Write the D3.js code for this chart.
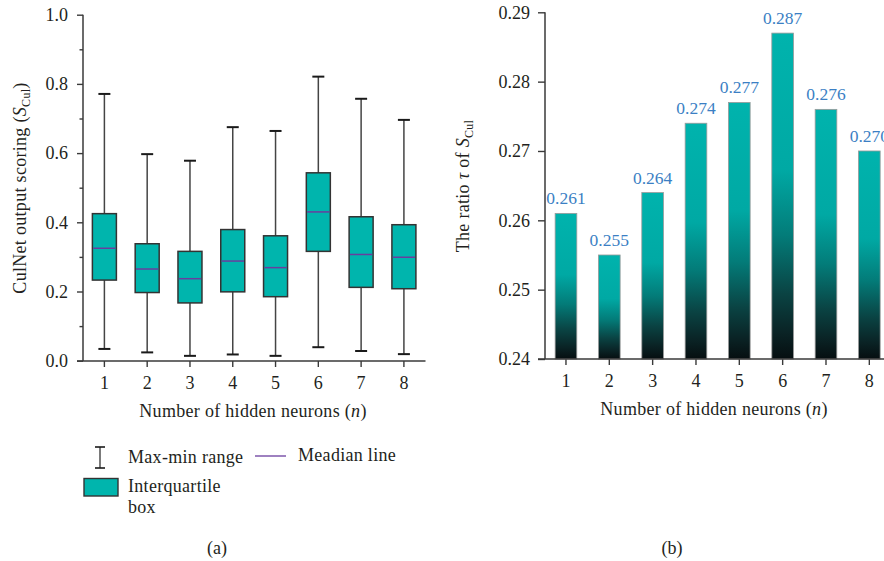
<!DOCTYPE html>
<html>
<head>
<meta charset="utf-8">
<script src="https://cdn.jsdelivr.net/npm/d3@7"></script>
<style>
  html, body { margin: 0; padding: 0; background: #fff; }
  svg { display: block; }
  svg text { font-family: "Liberation Serif", "Times New Roman", serif !important; fill: #231f20; }
  svg text.wide { letter-spacing: 0.3px; }
</style>
</head>
<body>
<svg id="chart" width="884" height="561"></svg>
<script>
// Hidden-neuron counts shared by both panels
const neurons = ["1", "2", "3", "4", "5", "6", "7", "8"];

// Panel (a): CulNet output score distribution per network size
const scoreMin    = [0.034, 0.024, 0.014, 0.018, 0.014, 0.039, 0.028, 0.019];
const scoreQ1     = [0.233, 0.197, 0.167, 0.199, 0.185, 0.316, 0.212, 0.208];
const scoreMedian = [0.325, 0.265, 0.237, 0.288, 0.269, 0.430, 0.307, 0.299];
const scoreQ3     = [0.425, 0.338, 0.316, 0.379, 0.361, 0.543, 0.416, 0.393];
const scoreMax    = [0.771, 0.597, 0.578, 0.675, 0.664, 0.821, 0.757, 0.696];
const scoreTicks  = [0, 0.2, 0.4, 0.6, 0.8, 1.0];
const scoreMinorTicks = [0.1, 0.3, 0.5, 0.7, 0.9];

// Panel (b): ratio tau of S_Cul per network size
const ratioValues = [0.261, 0.255, 0.264, 0.274, 0.277, 0.287, 0.276, 0.270];
const ratioTicks  = [0.24, 0.25, 0.26, 0.27, 0.28, 0.29];

const serif = '"Liberation Serif", "Times New Roman", serif';
const svg = d3.select("#chart");
const axisColor = "#3a3a3a";
const boxFill = "#00b5ad";
const medianColor = "#6a3d9e";
const labelBlue = "#3b7fc4";

const defs = svg.append("defs");
const grad = defs.append("linearGradient")
  .attr("id", "barFade")
  .attr("x1", 0).attr("y1", 0).attr("x2", 0).attr("y2", 1);
[[0, "#00b3ad"], [0.42, "#00a9a4"], [0.62, "#037c79"], [0.8, "#0a4343"], [0.92, "#0a2325"], [1, "#060e10"]]
  .forEach(([o, c]) => grad.append("stop").attr("offset", o).attr("stop-color", c));

function styleAxis(g) {
  g.attr("font-family", serif);
  g.selectAll("line").attr("stroke", axisColor).attr("stroke-width", 1.4);
  g.selectAll("text").style("font-family", serif).style("font-size", "18px").attr("fill", "#231f20");
}

// ---------- Panel (a): box plot ----------
const gA = svg.append("g");
const xA = d3.scaleBand().domain(neurons).range([83, 425.3]);
const yA = d3.scaleLinear().domain([0, 1]).range([360.7, 14.7]);
const boxW = 24, capW = 12;

// minor ticks
gA.append("g")
  .attr("transform", "translate(83,0)")
  .call(d3.axisLeft(yA).tickValues(scoreMinorTicks).tickSize(3.5).tickFormat(""))
  .call(g => g.select(".domain").remove())
  .call(styleAxis);

gA.append("g")
  .attr("transform", "translate(83,0)")
  .call(d3.axisLeft(yA).tickValues(scoreTicks).tickSize(6).tickPadding(9).tickFormat(d3.format(".1f")))
  .call(g => g.select(".domain").remove())
  .call(styleAxis);

gA.append("g")
  .attr("transform", "translate(0,361)")
  .call(d3.axisBottom(xA).tickSize(6).tickPadding(9))
  .call(g => g.select(".domain").remove())
  .call(styleAxis);

gA.append("line").attr("x1", 83).attr("x2", 83).attr("y1", yA(1)).attr("y2", 361)
  .attr("stroke", axisColor).attr("stroke-width", 1.5);
gA.append("line").attr("x1", 77).attr("x2", 425.5).attr("y1", 361).attr("y2", 361)
  .attr("stroke", axisColor).attr("stroke-width", 1.5);

const boxes = gA.append("g").selectAll("g").data(neurons).join("g")
  .attr("transform", d => `translate(${xA(d) + xA.bandwidth() / 2},0)`);

boxes.append("line")
  .attr("x1", 0).attr("x2", 0)
  .attr("y1", (d, i) => yA(scoreMax[i])).attr("y2", (d, i) => yA(scoreMin[i]))
  .attr("stroke", "#444").attr("stroke-width", 1.5);
boxes.append("line")
  .attr("x1", -capW / 2).attr("x2", capW / 2)
  .attr("y1", (d, i) => yA(scoreMax[i])).attr("y2", (d, i) => yA(scoreMax[i]))
  .attr("stroke", "#1a1a1a").attr("stroke-width", 2);
boxes.append("line")
  .attr("x1", -capW / 2).attr("x2", capW / 2)
  .attr("y1", (d, i) => yA(scoreMin[i])).attr("y2", (d, i) => yA(scoreMin[i]))
  .attr("stroke", "#1a1a1a").attr("stroke-width", 2);
boxes.append("rect")
  .attr("x", -boxW / 2).attr("width", boxW)
  .attr("y", (d, i) => yA(scoreQ3[i]))
  .attr("height", (d, i) => yA(scoreQ1[i]) - yA(scoreQ3[i]))
  .attr("fill", boxFill).attr("stroke", "#333").attr("stroke-width", 1.5);
boxes.append("line")
  .attr("x1", -boxW / 2 + 0.8).attr("x2", boxW / 2 - 0.8)
  .attr("y1", (d, i) => yA(scoreMedian[i])).attr("y2", (d, i) => yA(scoreMedian[i]))
  .attr("stroke", medianColor).attr("stroke-width", 1.5);

// axis titles
gA.append("text").attr("class", "wide")
  .attr("x", 253).attr("y", 417).attr("text-anchor", "middle")
  .style("font-size", "18px")
  .html('Number of hidden neurons (<tspan font-style="italic">n</tspan>)');

gA.append("text").attr("class", "wide")
  .attr("transform", "translate(26,188) rotate(-90)")
  .attr("text-anchor", "middle")
  .style("font-size", "18px")
  .html('CulNet output scoring (<tspan font-style="italic">S</tspan><tspan dy="4" style="font-size:12px">Cul</tspan><tspan dy="-4">)</tspan>');

// legend
const lg = gA.append("g");
lg.append("line").attr("x1", 100).attr("x2", 100).attr("y1", 447).attr("y2", 468)
  .attr("stroke", "#333").attr("stroke-width", 1.3);
lg.append("line").attr("x1", 95).attr("x2", 105).attr("y1", 447).attr("y2", 447)
  .attr("stroke", "#1a1a1a").attr("stroke-width", 1.6);
lg.append("line").attr("x1", 95).attr("x2", 105).attr("y1", 468).attr("y2", 468)
  .attr("stroke", "#1a1a1a").attr("stroke-width", 1.6);
lg.append("text").attr("class", "wide").attr("x", 128).attr("y", 463).style("font-size", "18px").text("Max-min range");
lg.append("line").attr("x1", 255).attr("x2", 286).attr("y1", 456).attr("y2", 456)
  .attr("stroke", medianColor).attr("stroke-width", 1.3);
lg.append("text").attr("class", "wide").attr("x", 298).attr("y", 461).style("font-size", "18px").text("Meadian line");
lg.append("rect").attr("x", 84).attr("y", 478.5).attr("width", 34).attr("height", 17.5)
  .attr("fill", boxFill).attr("stroke", "#333").attr("stroke-width", 1.4);
lg.append("text").attr("class", "wide").attr("x", 128).attr("y", 492).style("font-size", "18px").text("Interquartile");
lg.append("text").attr("class", "wide").attr("x", 128).attr("y", 513).style("font-size", "18px").text("box");

gA.append("text").attr("x", 217).attr("y", 554).attr("text-anchor", "middle")
  .style("font-size", "18px").text("(a)");

// ---------- Panel (b): bar chart ----------
const gB = svg.append("g");
const xB = d3.scaleBand().domain(neurons).range([544.3, 891]).paddingInner(0.5).paddingOuter(0.25);
const yB = d3.scaleLinear().domain([0.24, 0.29]).range([359, 12.3]);

gB.append("g")
  .attr("transform", "translate(545,0)")
  .call(d3.axisLeft(yB).tickValues(ratioTicks).tickSize(7).tickPadding(8).tickFormat(d3.format(".2f")))
  .call(g => g.select(".domain").remove())
  .call(styleAxis);

gB.append("g")
  .attr("transform", "translate(0,359)")
  .call(d3.axisBottom(xB).tickSize(6).tickPadding(9))
  .call(g => g.select(".domain").remove())
  .call(styleAxis);

gB.append("g").selectAll("rect").data(neurons).join("rect")
  .attr("x", d => xB(d)).attr("width", xB.bandwidth())
  .attr("y", (d, i) => yB(ratioValues[i]))
  .attr("height", (d, i) => yB(0.24) - yB(ratioValues[i]))
  .attr("fill", "url(#barFade)")
  .attr("stroke", "#9a9a9a").attr("stroke-width", 0.8);

gB.append("line").attr("x1", 545).attr("x2", 545).attr("y1", yB(0.29)).attr("y2", 359)
  .attr("stroke", axisColor).attr("stroke-width", 1.5);
gB.append("line").attr("x1", 538).attr("x2", 884).attr("y1", 359).attr("y2", 359)
  .attr("stroke", axisColor).attr("stroke-width", 1.5);

gB.append("g").selectAll("text").data(neurons).join("text")
  .attr("x", d => xB(d) + xB.bandwidth() / 2)
  .attr("y", (d, i) => yB(ratioValues[i]) - 9)
  .attr("text-anchor", "middle")
  .style("font-size", "17.5px")
  .style("fill", labelBlue)
  .text((d, i) => d3.format(".3f")(ratioValues[i]));

gB.append("text").attr("class", "wide")
  .attr("x", 714).attr("y", 415).attr("text-anchor", "middle")
  .style("font-size", "18px")
  .html('Number of hidden neurons (<tspan font-style="italic">n</tspan>)');

gB.append("text").attr("class", "wide")
  .attr("transform", "translate(469,186) rotate(-90)")
  .attr("text-anchor", "middle")
  .style("font-size", "18px")
  .html('The ratio <tspan font-style="italic">τ</tspan> of <tspan font-style="italic">S</tspan><tspan dy="4" style="font-size:12px">Cul</tspan>');

gB.append("text").attr("x", 672).attr("y", 554).attr("text-anchor", "middle")
  .style("font-size", "18px").text("(b)");
</script>
</body>
</html>
